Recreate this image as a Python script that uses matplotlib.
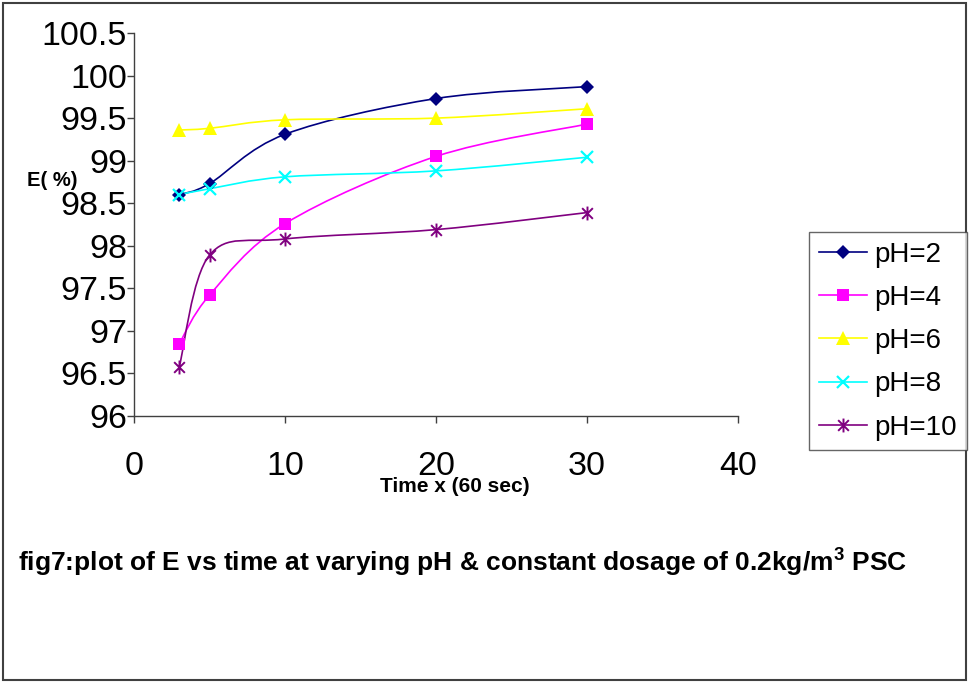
import matplotlib
matplotlib.use("Agg")
import matplotlib.pyplot as plt
from matplotlib.path import Path
from matplotlib.patches import PathPatch, Rectangle

plt.rcParams['font.family'] = ['Liberation Sans', 'DejaVu Sans']
plt.rcParams['mathtext.fontset'] = 'custom'
plt.rcParams['mathtext.bf'] = 'Liberation Sans:bold'
plt.rcParams['mathtext.rm'] = 'Liberation Sans'

# Data
time_min = [3, 5, 10, 20, 30]
e_ph2 = [98.60, 98.73, 99.31, 99.73, 99.87]
e_ph4 = [96.85, 97.42, 98.26, 99.05, 99.43]
e_ph6 = [99.36, 99.38, 99.48, 99.50, 99.61]
e_ph8 = [98.60, 98.67, 98.81, 98.88, 99.04]
e_ph10 = [96.58, 97.89, 98.08, 98.19, 98.39]
labels = ["pH=2", "pH=4", "pH=6", "pH=8", "pH=10"]
x_ticks = [0, 10, 20, 30, 40]
y_ticks = [96, 96.5, 97, 97.5, 98, 98.5, 99, 99.5, 100, 100.5]

# asterisk marker like the Excel one (x with a vertical bar)
star = Path([(-1, -1), (1, 1), (-1, 1), (1, -1), (0, -1.3), (0, 1.3)],
            [Path.MOVETO, Path.LINETO, Path.MOVETO, Path.LINETO, Path.MOVETO, Path.LINETO])

styles = [
    dict(color="#000080", marker="D", ms=7, mew=0),
    dict(color="#FF00FF", marker="s", ms=8, mew=0),
    dict(color="#FFFF00", marker="^", ms=10, mew=0),
    dict(color="#00FFFF", marker="x", ms=9, mew=1.6),
    dict(color="#800080", marker=star, ms=10, mew=1.4),
]


def smooth_path(xs, ys, sx, sy):
    """Catmull-Rom style bezier through the points (scaled to pixel space)."""
    pts = [(x * sx, y * sy) for x, y in zip(xs, ys)]
    n = len(pts)
    verts = [pts[0]]
    codes = [Path.MOVETO]
    for i in range(n - 1):
        p0 = pts[i - 1] if i > 0 else pts[i]
        p1 = pts[i]
        p2 = pts[i + 1]
        p3 = pts[i + 2] if i + 2 < n else pts[i + 1]
        c1 = (p1[0] + (p2[0] - p0[0]) / 6, p1[1] + (p2[1] - p0[1]) / 6)
        c2 = (p2[0] - (p3[0] - p1[0]) / 6, p2[1] - (p3[1] - p1[1]) / 6)
        verts += [c1, c2, p2]
        codes += [Path.CURVE4] * 3
    verts = [(vx / sx, vy / sy) for vx, vy in verts]
    return Path(verts, codes)


fig = plt.figure(figsize=(9.69, 6.83), dpi=100)
ax = fig.add_axes([134 / 969, 1 - 416 / 683, 604 / 969, 383 / 683])

series = [e_ph2, e_ph4, e_ph6, e_ph8, e_ph10]
sx, sy = 604 / 40, 383 / 4.5
handles = []
for vals, lab, st in zip(series, labels, styles):
    patch = PathPatch(smooth_path(time_min, vals, sx, sy), facecolor="none",
                      edgecolor=st["color"], lw=1.2, zorder=2)
    ax.add_patch(patch)
    ax.plot(time_min, vals, linestyle="none", marker=st["marker"], ms=st["ms"],
            color=st["color"], mec=st["color"], mew=st["mew"], zorder=3)
    handles.append(ax.plot([], [], color=st["color"], lw=1.2, marker=st["marker"],
                           ms=st["ms"], mec=st["color"], mew=st["mew"])[0])

ax.set_xlim(0, 40)
ax.set_ylim(96, 100.5)
ax.set_xticks(x_ticks)
ax.set_xticklabels([str(t) for t in x_ticks])
ax.set_yticks(y_ticks)
ax.set_yticklabels([f"{t:g}" for t in y_ticks])
ax.tick_params(axis="both", labelsize=24.5, length=5, width=1, color="#404040", direction="out")
ax.tick_params(axis="x", pad=20)
ax.tick_params(axis="y", pad=0)
for side in ["top", "right"]:
    ax.spines[side].set_visible(False)
for side in ["left", "bottom"]:
    ax.spines[side].set_color("#404040")
    ax.spines[side].set_linewidth(1)

fig.text(27 / 969, 1 - 181 / 683, "E( %)", fontsize=14.5, fontweight="bold", va="center")
fig.text(455 / 969, 1 - 487 / 683, "Time x (60 sec)", fontsize=15, fontweight="bold",
         ha="center", va="center")
fig.text(18 / 969, 1 - 562 / 683,
         "fig7:plot of E vs time at varying pH & constant dosage of 0.2kg/m$^{\\mathbf{3}}$ PSC",
         fontsize=19, fontweight="bold", va="center")

leg = fig.legend(handles, labels, loc="upper left", bbox_to_anchor=(809 / 969, 1 - 232 / 683),
                 fontsize=20, frameon=True, fancybox=False, handlelength=1.75,
                 handletextpad=0.25, borderpad=0.35, labelspacing=0.62, borderaxespad=0)
leg.get_frame().set_edgecolor("#404040")
leg.get_frame().set_linewidth(1)

fig.patches.append(Rectangle((3 / 969, 3 / 683), 963 / 969, 677 / 683, transform=fig.transFigure,
                             fill=False, edgecolor="#404040", lw=1.5))

fig.savefig("out.png", dpi=100)
